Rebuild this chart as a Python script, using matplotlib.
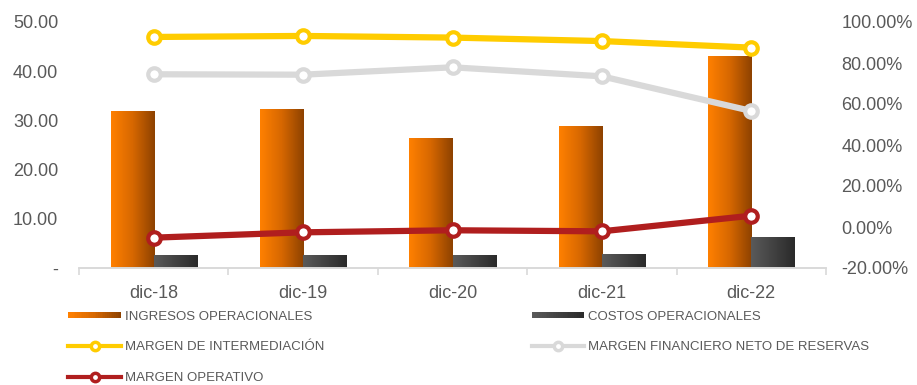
import numpy as np
import matplotlib
matplotlib.use("Agg")
import matplotlib.pyplot as plt
from matplotlib.patches import Rectangle
from matplotlib.legend_handler import HandlerBase
from matplotlib.lines import Line2D
from matplotlib.colors import LinearSegmentedColormap
from matplotlib.ticker import FuncFormatter, FixedLocator

plt.rcParams['font.family'] = ['Liberation Sans', 'DejaVu Sans']

# data
periods = ['dic-18', 'dic-19', 'dic-20', 'dic-21', 'dic-22']
ingresos = [31.9, 32.3, 26.4, 28.9, 43.1]
costos = [2.6, 2.6, 2.6, 2.8, 6.3]
margen_intermediacion = [0.927, 0.932, 0.924, 0.907, 0.875]
margen_fin_neto = [0.745, 0.743, 0.779, 0.735, 0.566]
margen_operativo = [-0.052, -0.026, -0.016, -0.021, 0.055]

orange_cmap = LinearSegmentedColormap.from_list('org', ['#ff8000', '#d66700', '#8e4200'])
dark_cmap = LinearSegmentedColormap.from_list('drk', ['#5a5a5a', '#2a2a2a'])
grey_txt = '#595959'

fig = plt.figure(figsize=(9.17, 3.85), dpi=100)
ax = fig.add_axes([79 / 917, 1 - 268 / 385, (826 - 79) / 917, (268 - 22) / 385])
ax2 = ax.twinx()

x = np.arange(len(periods))
w = 0.288


def gradient_bars(axis, xs, heights, cmap, align):
    bars = axis.bar(xs, heights, width=w, align=align, color='none', edgecolor='none')
    grad = np.linspace(0, 1, 64).reshape(1, -1)
    for b in bars:
        x0, y0 = b.get_x(), b.get_y()
        im = axis.imshow(grad, cmap=cmap, aspect='auto', extent=[x0, x0 + b.get_width(), y0, y0 + b.get_height()],
                         zorder=2)
        im.set_clip_path(b)
    return bars


gradient_bars(ax, x - w, ingresos, orange_cmap, 'edge')
gradient_bars(ax, x, costos, dark_cmap, 'edge')

ax.set_xlim(-0.5, len(periods) - 0.5)
ax.set_ylim(0, 50)
ax.set_yticks(np.arange(0, 51, 10))
ax.yaxis.set_major_formatter(FuncFormatter(lambda v, p: '-' if v == 0 else f'{v:.2f}'))

line_style = dict(linewidth=4.5, marker='o', markersize=9, markeredgewidth=3, markerfacecolor='white',
                  solid_capstyle='round')
l1, = ax2.plot(x, margen_intermediacion, color='#ffcc00', **line_style)
l2, = ax2.plot(x, margen_fin_neto, color='#d9d9d9', **line_style)
l3, = ax2.plot(x, margen_operativo, color='#b01e1e', **line_style)
ax2.set_ylim(-0.2, 1.0)
ax2.set_yticks(np.arange(-0.2, 1.01, 0.2))
ax2.yaxis.set_major_formatter(FuncFormatter(lambda v, p: f'{v * 100:.2f}%'))

for a in (ax, ax2):
    for s in ('top', 'left', 'right'):
        a.spines[s].set_visible(False)
    a.spines['bottom'].set_color('#d9d9d9')
    a.spines['bottom'].set_linewidth(1.2)
    a.tick_params(axis='y', length=0, labelsize=13, labelcolor=grey_txt)
ax.tick_params(axis='y', pad=15)
ax2.tick_params(axis='y', pad=11)

ax.set_xticks(x)
ax.set_xticklabels(periods)
ax.tick_params(axis='x', which='major', length=0, pad=12, labelsize=13, labelcolor=grey_txt)
ax.xaxis.set_minor_locator(FixedLocator(np.arange(-0.5, len(periods), 1.0)))
ax.tick_params(axis='x', which='minor', length=5, width=1.2, color='#d9d9d9')


class GradientHandler(HandlerBase):
    def __init__(self, cmap):
        super().__init__()
        self.cmap = cmap

    def create_artists(self, legend, orig_handle, xdescent, ydescent, width, height, fontsize, trans):
        n = 30
        arts = []
        for i in range(n):
            r = Rectangle((-xdescent + width * i / n, -ydescent + height * 0.15), width / n * 1.05, height * 0.7,
                          facecolor=self.cmap(i / (n - 1)), edgecolor='none', transform=trans)
            arts.append(r)
        return arts


h_ing = Rectangle((0, 0), 1, 1)
h_cos = Rectangle((0, 0), 1, 1)
leg_line = dict(linewidth=3, marker='o', markersize=6, markeredgewidth=2.5, markerfacecolor='white')
h1 = Line2D([], [], color='#ffcc00', **leg_line)
h2 = Line2D([], [], color='#d9d9d9', **leg_line)
h3 = Line2D([], [], color='#b01e1e', **leg_line)

leg = fig.legend([h_ing, h1, h3, h_cos, h2],
                 ['INGRESOS OPERACIONALES', 'MARGEN DE INTERMEDIACIÓN', 'MARGEN OPERATIVO',
                  'COSTOS OPERACIONALES', 'MARGEN FINANCIERO NETO DE RESERVAS'],
                 handler_map={h_ing: GradientHandler(orange_cmap), h_cos: GradientHandler(dark_cmap)},
                 ncol=2, loc='upper left', bbox_to_anchor=(63 / 917, 1 - 305 / 385), frameon=False,
                 fontsize=9.5, labelcolor=grey_txt, handlelength=4.0, handletextpad=0.3,
                 columnspacing=15.7, labelspacing=1.42, numpoints=1, borderaxespad=0)

fig.savefig('out.png', dpi=100)
